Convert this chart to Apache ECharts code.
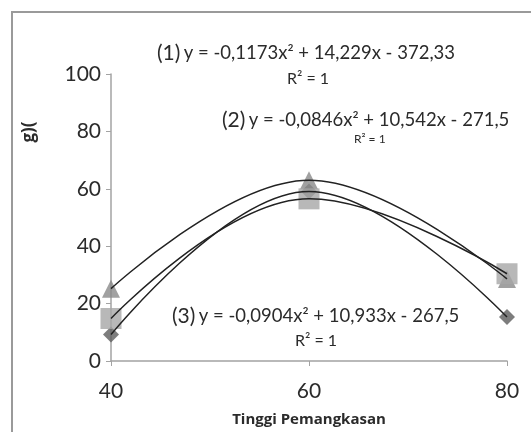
<!DOCTYPE html>
<html>
<head>
<meta charset="utf-8">
<script src="https://cdn.jsdelivr.net/npm/echarts@6/dist/echarts.min.js"></script>
<style>
  html, body { margin: 0; padding: 0; background: #fff; }
  #chart { width: 531px; height: 432px; }
</style>
</head>
<body>
<div id="chart"></div>
<script>
// data
const xValues = [40, 60, 80];
const diamondValues = [9.2, 59.1, 15.3];   // (1)
const squareValues = [14.8, 56.5, 30.4];   // (2)
const triangleValues = [25.2, 63.0, 28.6]; // (3)

const eqLabels = [
    'y = -0,1173x² + 14,229x - 372,33',
    'y = -0,0846x² + 10,542x - 271,5',
    'y = -0,0904x² + 10,933x - 267,5'
];
const r2Label = 'R² = 1';

const toPairs = (vals) => xValues.map((x, i) => [x, vals[i]]);

const chart = echarts.init(document.getElementById('chart'));

const axisColor = '#a3a3a3';
const textColor = '#2b2b2b';
const font = 'Lato, "Open Sans", sans-serif';
const eqFont = '"Open Sans", sans-serif';

const eqText = (num, eq, x, y) => ({
    type: 'text',
    x: x,
    y: y,
    style: {
        text: '{n|(' + num + ')} {e|' + eq + '}',
        verticalAlign: 'middle',
        rich: {
            n: {fontSize: 21, fontFamily: font, fill: textColor},
            e: {fontSize: 18.5, fontFamily: font, fill: textColor}
        }
    }
});

const r2Text = (x, y, size) => ({
    type: 'text',
    x: x,
    y: y,
    style: {
        text: r2Label,
        fontSize: size,
        fontFamily: font,
        fill: textColor,
        verticalAlign: 'middle'
    }
});

const curve = (vals) => ({
    type: 'line',
    data: toPairs(vals),
    smooth: 0.4,
    showSymbol: false,
    symbol: 'none',
    z: 3,
    lineStyle: {color: '#222', width: 1.5}
});

const marks = (vals, symbol, size, color) => ({
    type: 'scatter',
    data: toPairs(vals),
    symbol: symbol,
    symbolSize: size,
    z: 2,
    itemStyle: {color: color}
});

let option = {
    backgroundColor: '#fff',
    animation: false,
    grid: {left: 111, right: 24, top: 74, bottom: 64},
    xAxis: {
        type: 'value',
        min: 40,
        max: 80,
        interval: 20,
        name: 'Tinggi Pemangkasan',
        nameLocation: 'middle',
        nameGap: 51,
        nameTextStyle: {fontSize: 15, fontWeight: 'bold', fontFamily: eqFont, color: textColor},
        axisLine: {lineStyle: {color: axisColor, width: 1.5}},
        axisTick: {show: true, length: 5, lineStyle: {color: axisColor}},
        axisLabel: {fontSize: 21, fontFamily: font, color: textColor, margin: 20},
        splitLine: {show: false}
    },
    yAxis: {
        type: 'value',
        min: 0,
        max: 100,
        interval: 20,
        axisLine: {show: true, lineStyle: {color: axisColor, width: 1.5}},
        axisTick: {show: true, length: 5, lineStyle: {color: axisColor}},
        axisLabel: {fontSize: 21, fontFamily: font, color: textColor, margin: 10},
        splitLine: {show: false}
    },
    graphic: [
        {
            type: 'rect',
            shape: {x: 12, y: 12, width: 540, height: 440},
            style: {fill: 'none', stroke: '#9a9a9a', lineWidth: 2}
        },
        {
            type: 'text',
            x: 29,
            y: 132,
            rotation: Math.PI / 2,
            style: {
                text: 'g)(',
                fontSize: 17,
                fontWeight: 'bold',
                fontFamily: eqFont,
                fill: textColor,
                align: 'center',
                verticalAlign: 'middle'
            }
        },
        eqText(1, eqLabels[0], 157, 53),
        r2Text(287, 79, 16),
        eqText(2, eqLabels[1], 222, 120),
        r2Text(354, 139, 12),
        eqText(3, eqLabels[2], 172, 316),
        r2Text(295, 341, 16)
    ],
    series: [
        marks(diamondValues, 'diamond', 16, '#5c5c5c'),
        marks(triangleValues, 'triangle', 18, '#8a8a8a'),
        marks(squareValues, 'rect', 21, '#a6a6a6'),
        curve(diamondValues),
        curve(squareValues),
        curve(triangleValues)
    ]
};

chart.setOption(option);
</script>
</body>
</html>
